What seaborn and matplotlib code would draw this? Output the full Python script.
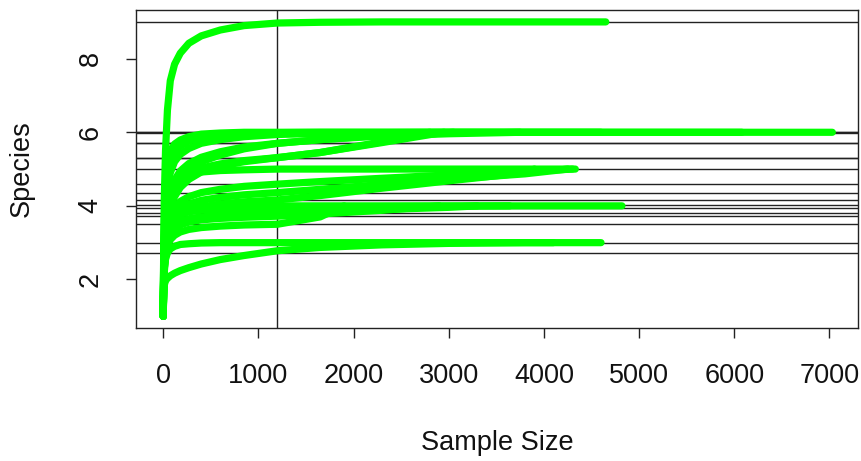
import numpy as np
import pandas as pd
import matplotlib
matplotlib.use("Agg")
import matplotlib.pyplot as plt
import seaborn as sns

# Subsample sizes at which expected richness is tabulated
knots = [1, 5, 12, 25, 45, 75, 120, 180, 270, 400, 600, 850, 1200,
         1650, 2300, 3000, 3800, 4700, 6000]

# Total reads and observed species per sample
sample_size = [4650, 7030, 6080, 4600, 3750, 3050, 2950, 2800, 4330, 4300,
               4250, 3900, 4820, 3640, 3300, 2900, 1900, 4600, 4100]
species = [9, 6, 6, 6, 6, 6, 6, 6, 5, 5, 5, 5, 4, 4, 4, 4, 4, 3, 3]

# Expected richness at each knot below the sample size
richness = [
    [1, 2.6, 4.2, 5.5, 6.6, 7.4, 7.85, 8.15, 8.42, 8.62, 8.78, 8.9, 8.97,
     8.99, 9.0, 9.0, 9.0],
    [1, 2.5, 3.6, 4.5, 5.1, 5.5, 5.68, 5.79, 5.88, 5.95, 5.98, 6.0, 6.0,
     6.0, 6.0, 6.0, 6.0, 6.0, 6.0],
    [1, 2.3, 3.3, 4.2, 4.8, 5.2, 5.45, 5.62, 5.76, 5.86, 5.93, 5.97, 5.99,
     6.0, 6.0, 6.0, 6.0, 6.0],
    [1, 2.2, 3.1, 3.9, 4.5, 4.9, 5.2, 5.4, 5.56, 5.7, 5.8, 5.88, 5.94,
     5.97, 5.99, 6.0, 6.0],
    [1, 2.0, 2.8, 3.5, 4.0, 4.4, 4.7, 4.95, 5.15, 5.32, 5.47, 5.6, 5.70,
     5.8, 5.9, 5.96],
    [1, 1.9, 2.6, 3.2, 3.7, 4.1, 4.45, 4.75, 5.0, 5.2, 5.38, 5.55, 5.70,
     5.8, 5.92, 5.99],
    [1, 1.9, 2.5, 3.1, 3.55, 3.95, 4.25, 4.5, 4.72, 4.92, 5.08, 5.2, 5.31,
     5.45, 5.72],
    [1, 2.0, 2.7, 3.3, 3.8, 4.2, 4.5, 4.72, 4.9, 5.03, 5.14, 5.23, 5.31,
     5.45, 5.74],
    [1, 2.3, 3.1, 3.7, 4.1, 4.4, 4.6, 4.75, 4.85, 4.92, 4.96, 4.98, 5.0,
     5.0, 5.0, 5.0, 5.0],
    [1, 1.9, 2.5, 3.0, 3.4, 3.7, 3.95, 4.12, 4.25, 4.36, 4.45, 4.53, 4.59,
     4.66, 4.75, 4.84, 4.93],
    [1, 1.8, 2.4, 2.9, 3.25, 3.55, 3.77, 3.93, 4.05, 4.15, 4.23, 4.3, 4.36,
     4.45, 4.58, 4.72, 4.87],
    [1, 1.7, 2.3, 2.75, 3.1, 3.4, 3.6, 3.75, 3.87, 3.97, 4.05, 4.11, 4.16,
     4.28, 4.48, 4.68, 4.9],
    [1, 2.1, 2.8, 3.25, 3.55, 3.74, 3.85, 3.92, 3.96, 3.98, 3.99, 4.0, 4.0,
     4.0, 4.0, 4.0, 4.0, 4.0],
    [1, 2.0, 2.6, 3.05, 3.35, 3.55, 3.68, 3.77, 3.84, 3.88, 3.91, 3.93, 3.95,
     3.97, 3.98, 3.99],
    [1, 1.9, 2.45, 2.85, 3.15, 3.35, 3.48, 3.58, 3.65, 3.7, 3.74, 3.78, 3.81,
     3.85, 3.9, 3.96],
    [1, 1.8, 2.35, 2.75, 3.05, 3.25, 3.38, 3.48, 3.56, 3.62, 3.66, 3.69, 3.72,
     3.78, 3.88],
    [1, 1.7, 2.2, 2.6, 2.9, 3.08, 3.2, 3.29, 3.36, 3.41, 3.45, 3.48, 3.50,
     3.7],
    [1, 1.9, 2.3, 2.55, 2.72, 2.83, 2.9, 2.95, 2.97, 2.99, 3.0, 3.0, 3.0,
     3.0, 3.0, 3.0, 3.0],
    [1, 1.6, 1.85, 1.97, 2.03, 2.1, 2.17, 2.24, 2.32, 2.42, 2.54, 2.65, 2.78,
     2.87, 2.94, 2.98, 3.0],
]

# Rarefied richness at the chosen depth, one line per sample
rarefy_depth = 1200
rarefied = [8.99, 6.0, 6.0, 5.99, 5.70, 5.70, 5.31, 5.31, 5.00, 4.59, 4.36,
            4.16, 4.02, 3.95, 3.81, 3.72, 3.50, 3.00, 2.71]

x_ticks = [0, 1000, 2000, 3000, 4000, 5000, 6000, 7000]
y_ticks = [2, 4, 6, 8]

rows = []
for i, (n, s, ys) in enumerate(zip(sample_size, species, richness)):
    xs = [k for k in knots if k < n][:len(ys)]
    for xv, yv in zip(xs, ys):
        rows.append((i, xv, yv))
    rows.append((i, n, s))
df = pd.DataFrame(rows, columns=["sample", "size", "species"])

sns.set_style("ticks")
plt.rcParams["font.family"] = ["Liberation Sans", "DejaVu Sans"]

fig = plt.figure(figsize=(8.62, 4.61), dpi=100)
ax = fig.add_axes([0.1578, 0.2885, 0.9954 - 0.1578, 0.978 - 0.2885])

ax.axvline(rarefy_depth, color="#222222", lw=1.0, zorder=1)
for r in rarefied:
    ax.axhline(r, color="#222222", lw=1.0, zorder=1)

sns.lineplot(data=df, x="size", y="species", units="sample", estimator=None,
             sort=False, color="#00ff00", linewidth=5.2, legend=False, ax=ax,
             zorder=2)
for line in ax.lines[-len(sample_size):]:
    line.set_solid_capstyle("round")
    line.set_solid_joinstyle("round")

ax.set_xlim(-285, 7300)
ax.set_ylim(0.68, 9.32)
ax.set_xticks(x_ticks)
ax.set_yticks(y_ticks)
ax.set_xticklabels([str(t) for t in x_ticks])
ax.set_yticklabels([str(t) for t in y_ticks], rotation=90, va="center")

for sp in ax.spines.values():
    sp.set_visible(True)
    sp.set_color("#222222")
    sp.set_linewidth(1.0)

ax.tick_params(axis="both", direction="out", length=7.5, width=1.0,
               color="#222222", labelsize=19.5, labelcolor="#111111")
ax.tick_params(axis="x", pad=18)
ax.tick_params(axis="y", pad=16)

ax.set_xlabel("Sample Size", fontsize=19.5, color="#111111")
ax.set_ylabel("Species", fontsize=19.5, color="#111111")
ax.xaxis.set_label_coords(0.5, -0.362)
ax.yaxis.set_label_coords(-0.158, 0.5)
ax.xaxis.label.set_va("center")
ax.yaxis.label.set_va("center")

fig.savefig("out.png", dpi=100, facecolor="white")
